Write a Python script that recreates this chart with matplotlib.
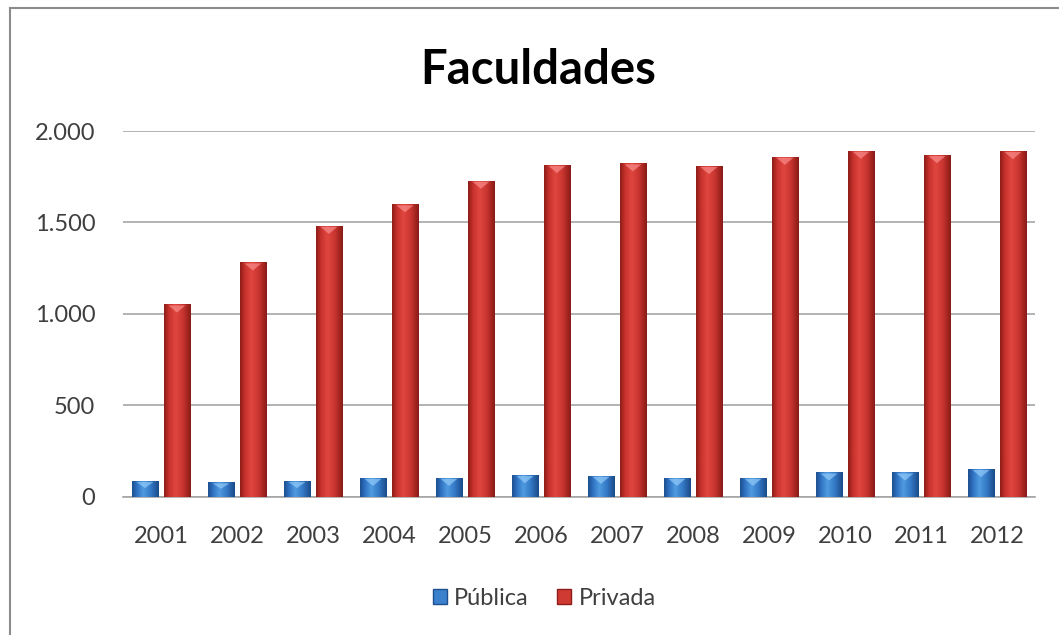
import matplotlib.pyplot as plt
import numpy as np
from matplotlib.colors import LinearSegmentedColormap
from matplotlib.lines import Line2D
from matplotlib.patches import Patch, Polygon
from matplotlib.ticker import FuncFormatter

plt.rcParams["font.family"] = ["Lato", "DejaVu Sans"]

anos = ["2001", "2002", "2003", "2004", "2005", "2006",
        "2007", "2008", "2009", "2010", "2011", "2012"]
publica = [86, 79, 86, 104, 104, 119, 115, 104, 104, 133, 133, 152]
privada = [1052, 1282, 1482, 1600, 1729, 1815, 1824, 1809, 1860, 1893, 1869, 1891]

TXT = "#3f3f3f"
GRID = "#a6a6a6"

# horizontal shading across each bar: dark rim, bright core slightly left of centre
cmap_red = LinearSegmentedColormap.from_list(
    "red", [(0, "#8e1c18"), (0.18, "#c7322c"), (0.42, "#e0463f"),
            (0.7, "#c93630"), (1, "#8a1a16")])
cmap_blue = LinearSegmentedColormap.from_list(
    "blue", [(0, "#1d4f8f"), (0.18, "#2f72c2"), (0.42, "#4f9be0"),
             (0.7, "#3479c6"), (1, "#1b4a88")])

fig = plt.figure(figsize=(10.59, 6.35), dpi=100)
ax = fig.add_axes([0.1161, 0.2178, 0.8612, 0.5759])

x = np.arange(len(anos))
w = 0.35
off = 0.21
grad = np.linspace(0, 1, 64).reshape(1, -1)


def shaded(xs, vals, cmap, base, cap):
    bars = ax.bar(xs, vals, width=w, color=base, edgecolor="none", zorder=2)
    for b in bars:
        x0, wd, h = b.get_x(), b.get_width(), b.get_height()
        im = ax.imshow(grad, cmap=cmap, extent=[x0, x0 + wd, 0, h],
                       aspect="auto", zorder=3, interpolation="bicubic")
        im.set_clip_path(b)
        # small light "V" on the top face of the bar
        tip = min(45, h * 0.45)
        ax.add_patch(Polygon([(x0 + wd * 0.18, h - 6), (x0 + wd * 0.82, h - 6),
                              (x0 + wd * 0.5, h - tip)],
                             closed=True, facecolor=cap, edgecolor="none",
                             alpha=0.6, zorder=4))
    return bars


shaded(x - off, publica, cmap_blue, "#3a80cc", "#9fd4ff")
shaded(x + off, privada, cmap_red, "#cf3a33", "#ff9a9a")

ax.set_xlim(-0.5, len(anos) - 0.5)
ax.set_ylim(0, 2000)
ax.set_yticks([0, 500, 1000, 1500, 2000])
ax.yaxis.set_major_formatter(FuncFormatter(lambda v, _: f"{int(v):,}".replace(",", ".")))
ax.set_xticks(x)
ax.set_xticklabels(anos)
ax.tick_params(axis="both", length=0, labelsize=17, colors=TXT)
ax.tick_params(axis="x", pad=21)
ax.tick_params(axis="y", pad=20)

ax.grid(axis="y", color=GRID, lw=1.2, zorder=0)
ax.set_axisbelow(True)
for s in ["top", "right", "left"]:
    ax.spines[s].set_visible(False)
ax.spines["bottom"].set_color(GRID)
ax.spines["bottom"].set_linewidth(1.2)

fig.text(0.508, 0.89, "Faculdades", ha="center", va="center",
         fontsize=34, fontweight="bold", color="black")

handles = [Patch(facecolor="#3a80cc", edgecolor="#1d4f8f", label="Pública"),
           Patch(facecolor="#cf3a33", edgecolor="#8e1c18", label="Privada")]
fig.legend(handles=handles, loc="center", bbox_to_anchor=(0.514, 0.058), ncol=2,
           frameon=False, fontsize=17, handlelength=0.6, handleheight=0.6,
           handletextpad=0.3, columnspacing=1.2, labelcolor=TXT)

# chart frame (only the left and top edges fall inside the canvas)
fig.add_artist(Line2D([10 / 1059, 10 / 1059], [0, 1 - 8 / 635],
                      transform=fig.transFigure, color="#8c8c8c", lw=1.5))
fig.add_artist(Line2D([10 / 1059, 1], [1 - 8 / 635, 1 - 8 / 635],
                      transform=fig.transFigure, color="#8c8c8c", lw=1.5))

fig.savefig("out.png", dpi=100, facecolor="white")
